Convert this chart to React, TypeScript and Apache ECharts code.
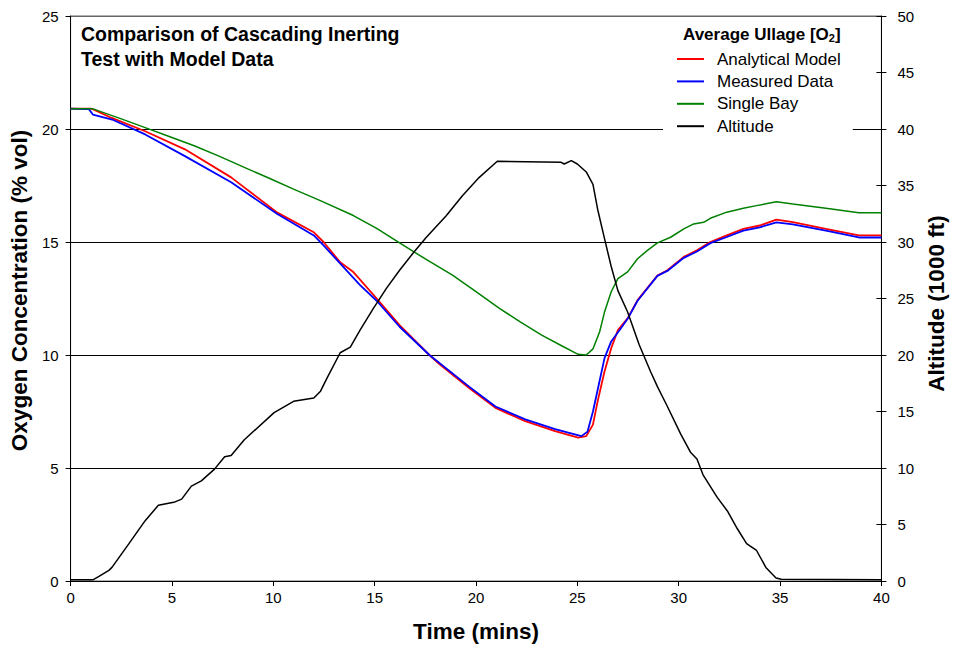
import React, { useEffect, useRef } from 'react';
import * as echarts from 'echarts';

const FONT = '"Liberation Sans", Arial, Helvetica, sans-serif';

const seriesNames = ['Analytical Model', 'Measured Data', 'Single Bay', 'Altitude'];

const modelTime = [0, 1.0, 1.15, 2.0, 3.68, 5.64, 7.92, 10.2, 12.0, 12.48, 13.3, 13.95, 15.1, 16.23, 17.7, 18.19, 19.66, 20.96, 22.43, 23.9, 25.04, 25.44, 25.77, 26.0, 26.34, 26.67, 27.0, 27.48, 27.97, 28.95, 29.44, 30.25, 30.9, 31.56, 32.37, 33.19, 34.0, 34.82, 35.63, 37.26, 38.89, 40];
const modelO2 = [20.9, 20.9, 20.86, 20.5, 19.9, 19.1, 17.86, 16.3, 15.43, 15.0, 14.1, 13.67, 12.5, 11.32, 10.0, 9.6, 8.54, 7.66, 7.07, 6.63, 6.34, 6.41, 6.92, 7.95, 9.27, 10.3, 11.1, 11.62, 12.43, 13.52, 13.75, 14.34, 14.63, 15.0, 15.29, 15.58, 15.73, 15.99, 15.88, 15.58, 15.29, 15.29];

const measuredTime = [0, 0.9, 1.1, 2.05, 3.68, 5.64, 7.92, 10.2, 12.0, 12.48, 14.28, 15.1, 16.23, 17.7, 19.66, 20.96, 22.43, 23.9, 25.2, 25.5, 25.77, 26.0, 26.34, 26.67, 27.15, 27.48, 27.97, 28.95, 29.44, 30.25, 30.9, 31.56, 32.37, 33.19, 34.0, 34.82, 35.63, 37.26, 38.89, 40];
const measuredO2 = [20.9, 20.88, 20.64, 20.42, 19.76, 18.8, 17.64, 16.24, 15.29, 14.85, 13.09, 12.4, 11.25, 10.0, 8.6, 7.72, 7.15, 6.72, 6.41, 6.6, 7.5, 8.45, 9.86, 10.6, 11.18, 11.6, 12.4, 13.5, 13.72, 14.3, 14.58, 14.95, 15.22, 15.5, 15.65, 15.87, 15.78, 15.5, 15.2, 15.2];

const singleTime = [0, 1.07, 2.4, 3.68, 4.9, 6.13, 7.35, 8.57, 9.8, 11.0, 12.32, 13.95, 15.1, 16.23, 17.5, 18.84, 20.0, 21.12, 22.2, 23.24, 24.2, 25.04, 25.44, 25.77, 26.1, 26.34, 26.67, 27.0, 27.48, 27.97, 28.46, 28.95, 29.6, 30.25, 30.74, 31.23, 31.56, 32.37, 33.19, 33.84, 34.82, 35.63, 37.26, 38.89, 40];
const singleO2 = [20.9, 20.9, 20.48, 20.06, 19.66, 19.25, 18.79, 18.3, 17.82, 17.34, 16.83, 16.17, 15.6, 14.96, 14.25, 13.53, 12.8, 12.09, 11.45, 10.88, 10.42, 10.03, 10.0, 10.27, 11.03, 11.9, 12.8, 13.38, 13.68, 14.26, 14.63, 14.96, 15.21, 15.58, 15.8, 15.87, 16.05, 16.32, 16.49, 16.61, 16.78, 16.68, 16.49, 16.29, 16.29];

const altTime = [0, 1.1, 1.4, 1.89, 2.05, 2.87, 3.68, 4.33, 5.15, 5.48, 5.96, 6.45, 7.1, 7.6, 7.92, 8.57, 10.04, 11.0, 12.0, 12.33, 12.65, 13.3, 13.8, 14.28, 14.93, 15.58, 16.23, 16.89, 17.54, 17.95, 18.52, 19.33, 20.15, 21.05, 24.2, 24.35, 24.7, 25.0, 25.44, 25.77, 26.0, 26.34, 26.66, 27.0, 27.48, 28.05, 28.62, 28.95, 29.4, 30.1, 30.58, 30.9, 31.2, 31.9, 32.4, 32.9, 33.35, 33.84, 34.3, 34.8, 35.06, 40];
const altValue = [0.1, 0.1, 0.41, 0.94, 1.23, 3.28, 5.34, 6.7, 7.0, 7.25, 8.4, 8.86, 9.9, 11.0, 11.1, 12.5, 14.9, 15.9, 16.2, 16.8, 17.96, 20.2, 20.7, 22.2, 24.1, 25.9, 27.5, 29.0, 30.4, 31.2, 32.3, 34.1, 35.7, 37.15, 37.05, 36.9, 37.2, 36.9, 36.2, 35.1, 32.9, 30.3, 27.9, 25.7, 23.8, 20.9, 18.5, 17.2, 15.6, 13.0, 11.4, 10.8, 9.4, 7.4, 6.2, 4.6, 3.3, 2.7, 1.2, 0.26, 0.15, 0.1];

const pairs = (t: number[], v: number[]) => t.map((x, i) => [x, v[i]]);

const tickLabel = { fontSize: 15, color: '#000', fontFamily: FONT };
const axisName = { fontSize: 22.5, fontWeight: 'bold', color: '#000', fontFamily: FONT };
const blackLine = { show: true, lineStyle: { color: '#000', width: 1 } };

export default function App() {
  const ref = useRef<HTMLDivElement>(null);
  useEffect(() => {
    const chart = echarts.init(ref.current!, null, { renderer: 'svg' });
    const lineSeries = (name: string, data: number[][], color: string, width: number, yAxisIndex = 0) => ({
      name,
      type: 'line',
      data,
      yAxisIndex,
      symbol: 'none',
      showSymbol: false,
      lineStyle: { color, width },
      itemStyle: { color },
      color,
    });
    chart.setOption({
      animation: false,
      backgroundColor: '#fff',
      grid: { left: 68, right: 70, top: 16, bottom: 64, show: true, borderColor: '#666', borderWidth: 1, backgroundColor: 'transparent' },
      xAxis: {
        type: 'value', min: 0, max: 40, interval: 5,
        name: 'Time (mins)', nameLocation: 'middle', nameGap: 39, nameTextStyle: axisName,
        axisLine: blackLine,
        axisTick: { show: true, length: 5, lineStyle: { color: '#000' } },
        axisLabel: { ...tickLabel, margin: 9 },
        splitLine: { show: false },
      },
      yAxis: [
        {
          type: 'value', position: 'left', min: 0, max: 25, interval: 5,
          name: 'Oxygen Concentration (% vol)', nameLocation: 'middle', nameGap: 34, nameRotate: 90,
          nameTextStyle: { ...axisName, padding: [0, 0, 0, 16] },
          axisLine: blackLine,
          axisTick: { show: true, length: 5, lineStyle: { color: '#000' } },
          axisLabel: { ...tickLabel, margin: 12 },
          splitLine: { show: true, lineStyle: { color: ['#000', '#000', '#000', '#000', '#000', '#666'], width: 1 } },
        },
        {
          type: 'value', position: 'right', min: 0, max: 50, interval: 5,
          name: 'Altitude (1000 ft)', nameLocation: 'middle', nameGap: 42, nameRotate: 90,
          nameTextStyle: { ...axisName, padding: [0, 10, 0, 0] },
          axisLine: blackLine,
          axisTick: { show: true, length: 5, lineStyle: { color: '#000' } },
          axisLabel: { ...tickLabel, margin: 16 },
          splitLine: { show: false },
        },
        {
          type: 'value', position: 'right', min: 0, max: 50, interval: 5,
          axisLine: { show: false },
          axisTick: { show: true, inside: true, length: 5, lineStyle: { color: '#000' } },
          axisLabel: { show: false },
          splitLine: { show: false },
        },
      ],
      legend: {
        data: seriesNames,
        orient: 'vertical',
        left: 663, top: 20,
        padding: [30.5, 12, 3, 14],
        itemGap: 5.4, itemWidth: 27, itemHeight: 2,
        icon: 'rect',
        backgroundColor: '#fff',
        selectedMode: false,
        textStyle: { fontSize: 17, color: '#000', fontFamily: FONT, padding: [0, 0, 0, 8] },
        z: 5,
      },
      graphic: [
        { type: 'text', x: 81, y: 34, z: 10, style: { text: 'Comparison of Cascading Inerting', fill: '#000', font: 'bold 19.5px ' + FONT, verticalAlign: 'middle' } },
        { type: 'text', x: 81, y: 58.5, z: 10, style: { text: 'Test with Model Data', fill: '#000', font: 'bold 19.5px ' + FONT, verticalAlign: 'middle' } },
        {
          type: 'text', x: 683, y: 34, z: 10,
          style: {
            text: '{a|Average Ullage [O}{s|2}{a|]}',
            verticalAlign: 'middle',
            rich: {
              a: { fontSize: 17, fontWeight: 'bold', fontFamily: FONT, fill: '#000' },
              s: { fontSize: 11, fontWeight: 'bold', fontFamily: FONT, fill: '#000', padding: [8, 0, 0, 0], verticalAlign: 'bottom' },
            },
          },
        },
      ],
      series: [
        lineSeries(seriesNames[0], pairs(modelTime, modelO2), '#ff0000', 1.8),
        lineSeries(seriesNames[1], pairs(measuredTime, measuredO2), '#0000ff', 1.8),
        lineSeries(seriesNames[2], pairs(singleTime, singleO2), '#008000', 1.5),
        lineSeries(seriesNames[3], pairs(altTime, altValue), '#000000', 1.5, 1),
      ],
    });
    return () => chart.dispose();
  }, []);
  return <div ref={ref} style={{ position: 'fixed', left: 0, top: 0, width: 956, height: 648, background: '#fff' }} />;
}
